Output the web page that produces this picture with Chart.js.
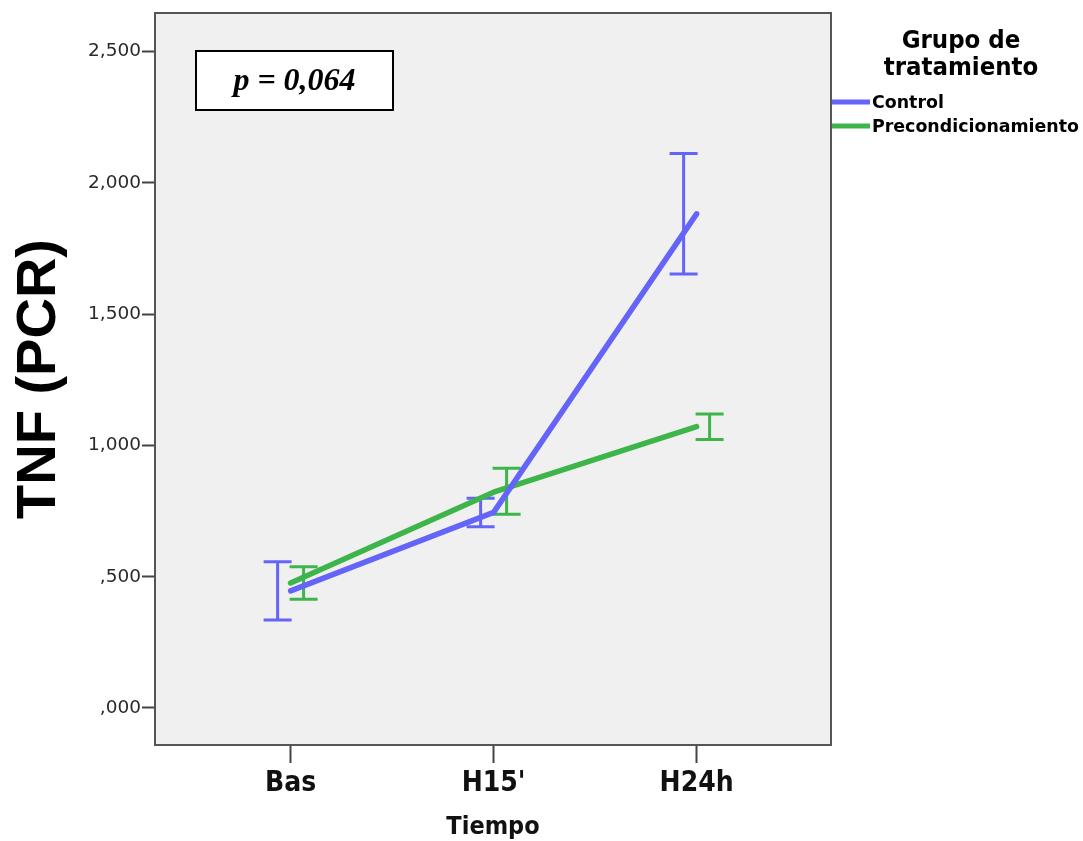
<!DOCTYPE html>
<html><head><meta charset="utf-8">
<script src="https://cdn.jsdelivr.net/npm/chart.js@4"></script>
<style>html,body{margin:0;padding:0;background:#fff}#wrap{width:1083px;height:841px}</style>
</head><body><div id="wrap"><canvas id="c" width="1083" height="841"></canvas></div>
<script>
const categories = ['Bas', "H15'", 'H24h'];
const seriesNames = ['Control', 'Precondicionamiento'];
const controlMean = [0.446, 0.745, 1.882];
const controlLow  = [0.335, 0.690, 1.653];
const controlHigh = [0.557, 0.799, 2.112];
const precondMean = [0.476, 0.822, 1.072];
const precondLow  = [0.414, 0.738, 1.023];
const precondHigh = [0.538, 0.913, 1.120];
const yTicks = [0, 0.5, 1, 1.5, 2, 2.5];
const xTitle = 'Tiempo';
const yTitle = 'TNF (PCR)';
const legendTitle = ['Grupo de', 'tratamiento'];
const pText = 'p = 0,064';

const BLUE = '#6464f8';
const GREEN = '#3db54a';
const COND = "'DejaVu Sans Condensed', 'Liberation Sans Narrow', sans-serif";
const DODGE = 0.064;

const series = [
  {name: seriesNames[0], mean: controlMean, low: controlLow, high: controlHigh, color: BLUE, off: -DODGE},
  {name: seriesNames[1], mean: precondMean, low: precondLow, high: precondHigh, color: GREEN, off: DODGE}
];

function fmt(v) {
  let s = v.toFixed(3).replace('.', ',');
  if (s.startsWith('0')) s = s.slice(1);
  return s;
}

const plugin = {
  id: 'custom',
  beforeDraw(chart) {
    const {ctx, chartArea: a} = chart;
    ctx.save();
    ctx.fillStyle = '#fff';
    ctx.fillRect(0, 0, chart.width, chart.height);
    ctx.fillStyle = '#f0f0f0';
    ctx.fillRect(a.left, a.top, a.right - a.left, a.bottom - a.top);
    ctx.restore();
  },
  beforeDatasetsDraw(chart) {
    const {ctx} = chart;
    const xs = chart.scales.x, ys = chart.scales.y;
    ctx.save();
    ctx.lineWidth = 3;
    ctx.lineCap = 'butt';
    series.forEach(s => {
      ctx.strokeStyle = s.color;
      s.mean.forEach((m, i) => {
        const x = xs.getPixelForValue(i + s.off);
        const yl = ys.getPixelForValue(s.low[i]);
        const yh = ys.getPixelForValue(s.high[i]);
        ctx.beginPath();
        ctx.moveTo(x, yl); ctx.lineTo(x, yh);
        ctx.moveTo(x - 14, yl); ctx.lineTo(x + 14, yl);
        ctx.moveTo(x - 14, yh); ctx.lineTo(x + 14, yh);
        ctx.stroke();
      });
    });
    ctx.restore();
  },
  afterDraw(chart) {
    const {ctx, chartArea: a} = chart;
    ctx.save();
    // plot frame
    ctx.strokeStyle = '#555';
    ctx.lineWidth = 2;
    ctx.strokeRect(a.left, a.top, a.right - a.left, a.bottom - a.top);
    // p-value box
    const bx = a.left + 41, by = a.top + 38, bw = 197, bh = 59;
    ctx.fillStyle = '#fff';
    ctx.fillRect(bx, by, bw, bh);
    ctx.strokeStyle = '#000';
    ctx.lineWidth = 2;
    ctx.strokeRect(bx, by, bw, bh);
    ctx.fillStyle = '#000';
    ctx.font = "italic bold 32px 'Liberation Serif', serif";
    ctx.textAlign = 'center';
    ctx.textBaseline = 'middle';
    ctx.fillText(pText, bx + bw / 2, by + bh / 2 + 1);
    // legend
    const lx = a.right + 130;
    ctx.font = "bold 25.5px " + COND;
    ctx.fillStyle = '#000';
    ctx.fillText(legendTitle[0], lx, 41);
    ctx.fillText(legendTitle[1], lx, 68);
    ctx.textAlign = 'left';
    ctx.font = "bold 17.4px 'DejaVu Sans', sans-serif";
    series.forEach((s, i) => {
      const y = 102 + i * 24;
      ctx.strokeStyle = s.color;
      ctx.lineWidth = 5;
      ctx.beginPath();
      ctx.moveTo(a.right + 1, y); ctx.lineTo(a.right + 39, y);
      ctx.stroke();
      ctx.fillStyle = '#000';
      ctx.fillText(s.name, a.right + 41, y + 1);
    });
    ctx.restore();
  }
};

new Chart(document.getElementById('c'), {
  type: 'line',
  data: {
    datasets: series.map(s => ({
      label: s.name,
      data: s.mean.map((v, i) => ({x: i, y: v})),
      borderColor: s.color,
      backgroundColor: s.color,
      borderWidth: 5.5,
      borderCapStyle: 'round',
      borderJoinStyle: 'round',
      pointRadius: 0,
      tension: 0,
      fill: false
    }))
  },
  options: {
    responsive: false,
    animation: false,
    devicePixelRatio: 1,
    layout: {padding: {left: 0, top: 13, right: 252, bottom: 0}},
    plugins: {legend: {display: false}, tooltip: {enabled: false}},
    scales: {
      x: {
        type: 'linear',
        min: -0.668, max: 2.662,
        afterBuildTicks: sc => { sc.ticks = categories.map((c, i) => ({value: i})); },
        afterFit: sc => { sc.height = 96; },
        ticks: {
          callback: v => categories[v],
          font: {family: COND, size: 28, weight: 'bold'},
          color: '#111',
          padding: 4,
          maxRotation: 0,
          autoSkip: false
        },
        grid: {display: true, drawOnChartArea: false, drawTicks: true, tickLength: 18, tickColor: '#444', tickWidth: 2},
        border: {display: false},
        title: {display: true, text: xTitle, font: {family: COND, size: 25, weight: 'bold'}, color: '#111', padding: {top: 0, bottom: -1}}
      },
      y: {
        type: 'linear',
        min: -0.141, max: 2.647,
        afterBuildTicks: sc => { sc.ticks = yTicks.map(v => ({value: v})); },
        afterFit: sc => { sc.width = 155; },
        ticks: {
          callback: v => fmt(v),
          font: {family: "'DejaVu Sans', sans-serif", size: 18.5},
          color: '#2a2a2a',
          padding: 1
        },
        grid: {display: true, drawOnChartArea: false, drawTicks: true, tickLength: 13, tickColor: '#444', tickWidth: 2},
        border: {display: false},
        title: {display: true, text: yTitle, font: {family: "'Liberation Sans', Arial, sans-serif", size: 56, weight: 'bold', lineHeight: 1}, color: '#000', padding: {top: 12, bottom: 0}}
      }
    }
  },
  plugins: [plugin]
});
</script>
</body></html>
